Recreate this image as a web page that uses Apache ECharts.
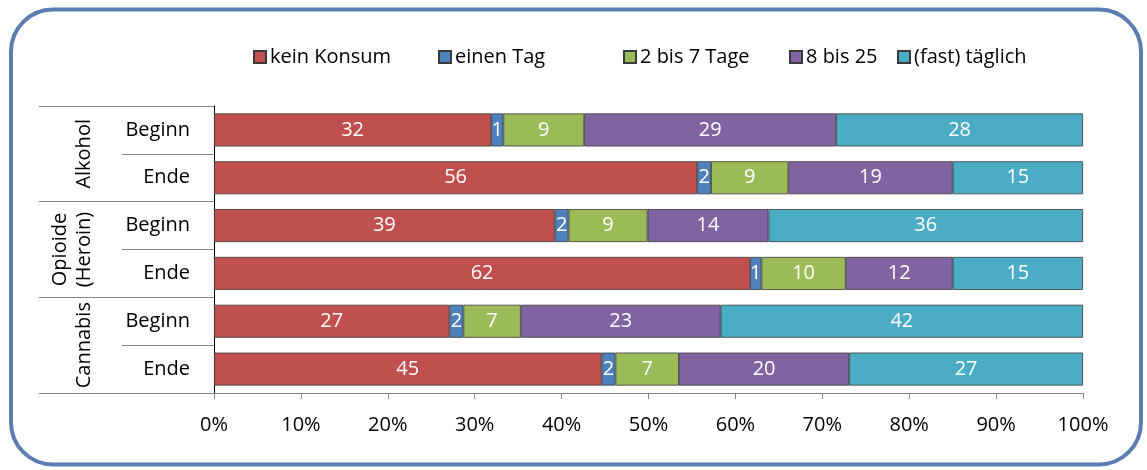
<!DOCTYPE html>
<html>
<head>
<meta charset="utf-8">
<script src="https://cdn.jsdelivr.net/npm/echarts@6/dist/echarts.min.js"></script>
<style>
  html, body { margin: 0; padding: 0; background: #fff; }
  #chart { width: 1147px; height: 470px; }
</style>
</head>
<body>
<div id="chart"></div>
<script>
  // Gruppen und Zeitpunkte
  var groups = ['Alkohol', 'Opioide\n(Heroin)', 'Cannabis'];
  var stages = ['Beginn', 'Ende'];
  var seriesNames = ['kein Konsum', 'einen Tag', '2 bis 7 Tage', '8 bis 25', '(fast) täglich'];
  var xTicks = [0, 10, 20, 30, 40, 50, 60, 70, 80, 90, 100];

  // Anteile in %, Reihenfolge: Alkohol B/E, Opioide B/E, Cannabis B/E
  var keinKonsum = [31.9, 55.6, 39.2, 61.7, 27.1, 44.6];
  var einenTag   = [1.4, 1.6, 1.6, 1.3, 1.6, 1.6];
  var zweiBis7   = [9.3, 8.9, 9.1, 9.7, 6.6, 7.3];
  var achtBis25  = [29.0, 18.9, 13.9, 12.3, 23.0, 19.6];
  var taeglich   = [28.4, 15.0, 36.2, 15.0, 41.7, 26.9];

  var colors = ['#C0504D', '#4F81BD', '#9BBB59', '#8064A2', '#4BACC6'];
  var allData = [keinKonsum, einenTag, zweiBis7, achtBis25, taeglich];
  var font = '"Open Sans", Lato, sans-serif';
  var legendLeft = [248, 433, 618, 784, 892];

  var rows = [];
  groups.forEach(function (g) {
    stages.forEach(function (s) { rows.push(g + '|' + s); });
  });

  var chart = echarts.init(document.getElementById('chart'));

  chart.setOption({
    animation: false,
    textStyle: { fontFamily: font },
    graphic: [{
      type: 'rect',
      shape: { x: 11, y: 9.5, width: 1130, height: 455, r: 42 },
      style: { fill: 'none', stroke: '#5b7db1', lineWidth: 4 },
      silent: true
    }],
    // eine Legende je Eintrag, damit die Abstände wie im Original sind
    legend: seriesNames.map(function (name, i) {
      return {
        top: 42,
        left: legendLeft[i],
        icon: 'rect',
        itemWidth: 12,
        itemHeight: 12,
        textStyle: { fontSize: 20, color: '#000', fontFamily: font, padding: [0, 0, 0, -1] },
        data: [name]
      };
    }),
    grid: { left: 214, right: 64, top: 106, bottom: 77, containLabel: false, outerBoundsMode: 'none' },
    xAxis: {
      type: 'value',
      min: 0,
      max: 100,
      interval: 10,
      axisLine: { show: true, lineStyle: { color: '#868686', width: 1 } },
      axisTick: { show: true, length: 6, lineStyle: { color: '#868686' } },
      splitLine: { show: false },
      axisLabel: { fontSize: 20, color: '#000', margin: 22, formatter: '{value}%', fontFamily: font }
    },
    yAxis: [{
      type: 'category',
      position: 'left',
      inverse: true,
      data: rows,
      axisLine: { show: true, lineStyle: { color: '#000', width: 1 } },
      axisTick: { show: true, interval: 0, length: 92, lineStyle: { color: '#868686' } },
      axisLabel: {
        interval: 0, fontSize: 20, color: '#000', margin: 24, fontFamily: font,
        formatter: function (v) { return v.split('|')[1]; }
      }
    }, {
      type: 'category',
      position: 'left',
      offset: 0,
      inverse: true,
      data: groups,
      axisLine: { show: false },
      axisTick: { show: true, interval: 0, length: 175, lineStyle: { color: '#868686' } },
      axisLabel: {
        interval: 0, hideOverlap: false,
        fontSize: 20, color: '#000', margin: 118, rotate: 90,
        align: 'center', verticalAlign: 'bottom', lineHeight: 24, fontFamily: font
      }
    }],
    series: seriesNames.map(function (name, i) {
      return {
        name: name,
        type: 'bar',
        stack: 'total',
        yAxisIndex: 0,
        barWidth: 33,
        data: allData[i],
        itemStyle: { color: colors[i], borderColor: '#3a3a3a', borderWidth: 0.8 },
        label: {
          show: true,
          position: 'inside',
          color: '#fff',
          fontSize: 20,
          fontFamily: font,
          formatter: function (p) { return Math.round(p.value); }
        }
      };
    })
  });
</script>
</body>
</html>
